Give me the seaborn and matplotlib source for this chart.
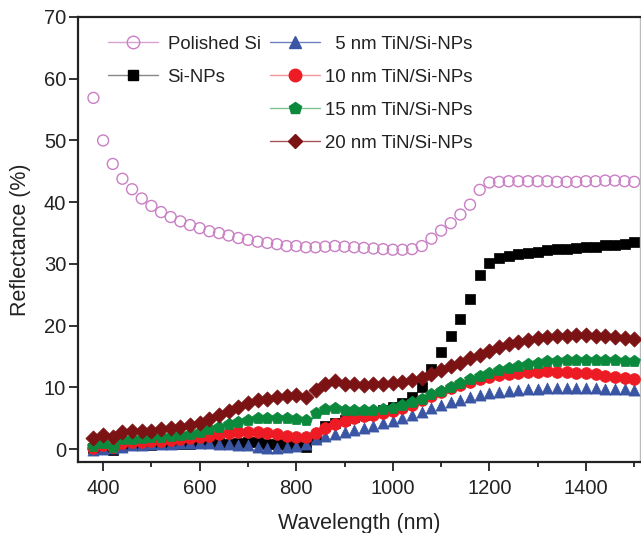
import numpy as np
import pandas as pd
import seaborn as sns
import matplotlib.pyplot as plt
from matplotlib.lines import Line2D

# wavelength grid (nm)
wavelength = list(range(380, 1501, 20))

polished_si = [56.9, 50.0, 46.2, 43.8, 42.1, 40.6, 39.4, 38.4, 37.6, 36.9,
               36.3, 35.8, 35.3, 35.0, 34.6, 34.2, 33.9, 33.6, 33.4, 33.2,
               32.9, 32.9, 32.7, 32.7, 32.8, 32.9, 32.8, 32.7, 32.6, 32.5,
               32.4, 32.3, 32.3, 32.4, 32.9, 34.1, 35.4, 36.6, 38.0, 39.6,
               42.0, 43.2, 43.3, 43.4, 43.4, 43.4, 43.4, 43.4, 43.3, 43.3,
               43.3, 43.4, 43.4, 43.5, 43.5, 43.4, 43.3]
si_nps = [0.2, 0.3, -0.2, 0.5, 0.6, 0.7, 0.7, 0.8, 0.8, 0.9,
          0.9, 1.0, 1.0, 1.0, 0.9, 1.0, 1.1, 1.2, 0.9, 0.9,
          0.7, 0.5, 0.3, 2.0, 3.7, 4.3, 4.8, 5.2, 5.6, 6.0,
          6.4, 6.8, 7.4, 8.4, 10.1, 13.0, 15.7, 18.3, 21.1, 24.3,
          28.2, 30.1, 30.9, 31.3, 31.6, 31.8, 32.0, 32.2, 32.4, 32.5,
          32.6, 32.8, 32.8, 33.0, 33.1, 33.3, 33.5]
tin_5 = [-0.2, 0.1, 0.2, 0.4, 0.6, 0.7, 0.8, 0.9, 0.9, 1.0,
         1.0, 1.0, 1.0, 0.9, 0.8, 0.7, 0.6, 0.4, 0.2, 0.2,
         0.3, 0.5, 0.9, 1.6, 2.1, 2.5, 2.8, 3.1, 3.4, 3.8,
         4.2, 4.6, 5.0, 5.5, 6.0, 6.6, 7.1, 7.6, 8.0, 8.4,
         8.8, 9.1, 9.3, 9.5, 9.6, 9.7, 9.8, 9.9, 9.9, 9.9,
         9.9, 9.9, 9.9, 9.8, 9.8, 9.7, 9.6]
tin_10 = [0.2, 0.6, 0.3, 1.0, 1.1, 1.2, 1.3, 1.4, 1.5, 1.6,
          1.8, 2.0, 2.2, 2.4, 2.6, 2.7, 2.8, 2.8, 2.6, 2.4,
          2.2, 2.0, 2.0, 2.6, 3.4, 4.1, 4.6, 5.0, 5.3, 5.6,
          5.9, 6.2, 6.6, 7.2, 7.9, 8.6, 9.3, 9.9, 10.4, 10.9,
          11.3, 11.7, 12.0, 12.2, 12.4, 12.5, 12.5, 12.6, 12.5, 12.5,
          12.4, 12.3, 12.1, 11.9, 11.7, 11.5, 11.3]
tin_15 = [0.5, 1.0, 0.4, 1.6, 1.7, 1.8, 1.9, 2.0, 2.1, 2.3,
          2.5, 2.8, 3.2, 3.6, 4.0, 4.4, 4.7, 5.0, 5.1, 5.1,
          5.0, 4.9, 4.8, 5.8, 6.5, 6.7, 6.4, 6.3, 6.3, 6.4,
          6.5, 6.7, 7.1, 7.6, 8.2, 8.9, 9.5, 10.1, 10.7, 11.3,
          11.8, 12.3, 12.8, 13.2, 13.5, 13.8, 14.0, 14.2, 14.3, 14.4,
          14.5, 14.5, 14.5, 14.4, 14.4, 14.3, 14.2]
tin_20 = [1.8, 2.3, 1.9, 2.8, 2.9, 3.0, 3.0, 3.2, 3.4, 3.6,
          3.9, 4.3, 4.9, 5.6, 6.2, 6.9, 7.5, 7.9, 8.2, 8.4,
          8.6, 8.7, 8.4, 9.6, 10.6, 11.0, 10.6, 10.5, 10.4, 10.5,
          10.6, 10.7, 10.9, 11.2, 11.6, 12.2, 12.8, 13.4, 14.0, 14.7,
          15.3, 15.9, 16.5, 17.0, 17.4, 17.7, 18.0, 18.2, 18.3, 18.4,
          18.5, 18.5, 18.4, 18.3, 18.2, 18.0, 17.8]

labels = ["Polished Si", "Si-NPs", "  5 nm TiN/Si-NPs", "10 nm TiN/Si-NPs",
          "15 nm TiN/Si-NPs", "20 nm TiN/Si-NPs"]

sns.set_theme(style="ticks")
plt.rcParams['font.family'] = ['Liberation Sans', 'DejaVu Sans']

fig = plt.figure(figsize=(6.41, 5.33), dpi=100)
ax = fig.add_axes([78 / 641, 1 - 461.5 / 533, (640 - 78) / 641, (461.5 - 17) / 533])

# series drawn in the same order as the legend
styles = [
    dict(y=polished_si, marker="o", s=62, color="#c97fc4", line="#d7a3d3", hollow=True),
    dict(y=si_nps, marker="s", s=52, color="black", line="#888888", hollow=False),
    dict(y=tin_5, marker="^", s=64, color="#3a55a4", line="#6d82c0", hollow=False),
    dict(y=tin_10, marker="o", s=72, color="#ed1c24", line="#f3959a", hollow=False),
    dict(y=tin_15, marker="p", s=82, color="#0b8a3e", line="#7cc493", hollow=False),
    dict(y=tin_20, marker="D", s=60, color="#7b1214", line="#a65557", hollow=False),
]

for st in styles:
    if st["hollow"]:
        sns.scatterplot(x=wavelength, y=st["y"], ax=ax, marker=st["marker"], s=st["s"],
                        facecolors="none", edgecolor=st["color"], linewidth=1.0, zorder=3)
    else:
        sns.scatterplot(x=wavelength, y=st["y"], ax=ax, marker=st["marker"], s=st["s"],
                        color=st["color"], edgecolor=st["color"], linewidth=0.5, zorder=3)

ax.set_xlim(348, 1512)
ax.set_ylim(-2, 70)
ax.set_xticks(range(400, 1501, 200))
ax.set_xticks(range(500, 1501, 200), minor=True)
ax.set_yticks(range(0, 71, 10))
ax.tick_params(axis="both", which="major", direction="out", length=6.5, width=1.3,
               labelsize=14.5, pad=2, color="#222222", labelcolor="#222222")
ax.tick_params(axis="x", which="minor", direction="out", length=3.5, width=1.3, color="#222222")
ax.tick_params(axis="x", which="major", pad=6)

for side in ["left", "bottom", "top"]:
    ax.spines[side].set_linewidth(1.6)
    ax.spines[side].set_color("#222222")
ax.spines["right"].set_linewidth(1.0)
ax.spines["right"].set_color("#bbbbbb")

ax.set_xlabel("Wavelength (nm)", fontsize=15.5, color="#222222", labelpad=11)
ax.set_ylabel("Reflectance (%)", fontsize=15.5, color="#222222", labelpad=9)


def handle(st):
    face = "none" if st["hollow"] else st["color"]
    ms = 9 if st["marker"] in ("o", "p", "^") else 7.5
    return Line2D([0], [0], color=st["line"], lw=1.0, marker=st["marker"], markersize=ms,
                  markerfacecolor=face, markeredgecolor=st["color"])


handles = [handle(st) for st in styles]

leg1 = fig.legend(handles[:2], labels[:2], loc="upper left",
                  bbox_to_anchor=(108 / 641, 1 - 35.5 / 533), frameon=False,
                  fontsize=13.4, handlelength=2.7, handletextpad=0.5,
                  labelspacing=0.86, borderpad=0, borderaxespad=0)
leg2 = fig.legend(handles[2:], labels[2:], loc="upper left",
                  bbox_to_anchor=(270 / 641, 1 - 35.5 / 533), frameon=False,
                  fontsize=13.4, handlelength=2.7, handletextpad=0.25,
                  labelspacing=0.86, borderpad=0, borderaxespad=0)
for leg in (leg1, leg2):
    for t in leg.get_texts():
        t.set_color("#222222")

fig.savefig("out.png", dpi=100)
